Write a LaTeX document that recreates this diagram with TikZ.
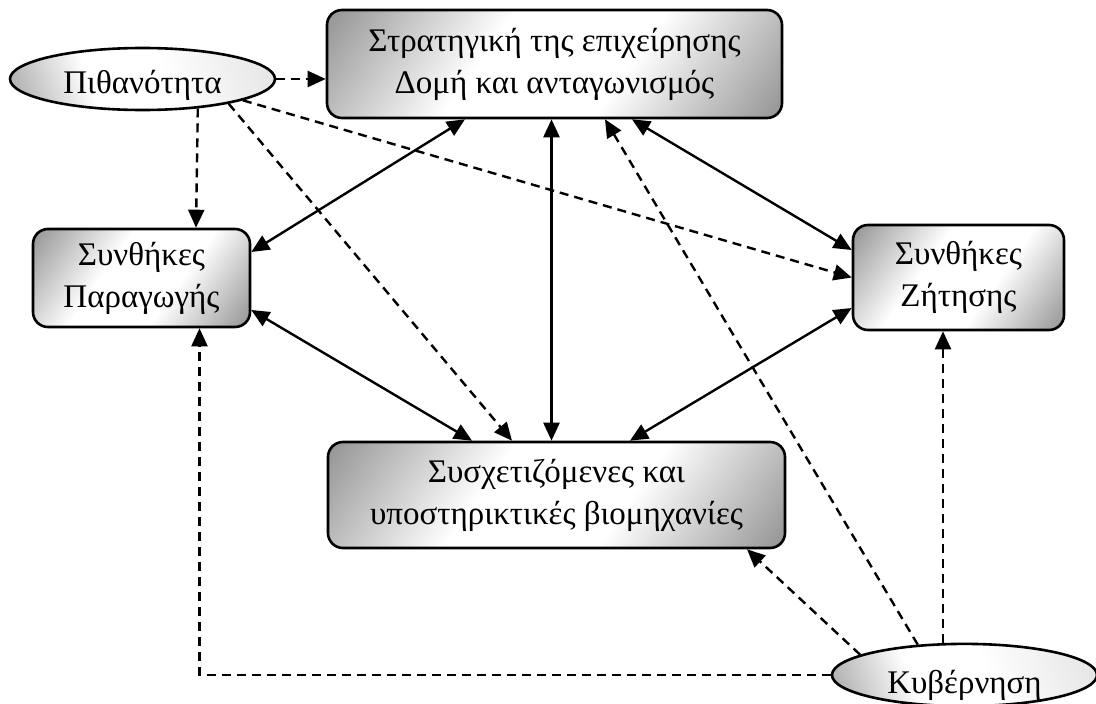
\documentclass[tikz,border=0pt]{standalone}
\usepackage{fontspec}
\setmainfont{Liberation Serif}
\usetikzlibrary{arrows.meta,calc,shapes.geometric}
\pgfdeclareverticalshading{boxshade}{100bp}{color(0bp)=(black!60); color(12bp)=(black!48); color(40bp)=(white); color(60bp)=(white); color(88bp)=(black!48); color(100bp)=(black!60)}
\pgfdeclareverticalshading{ovalshade}{100bp}{color(0bp)=(black!15); color(20bp)=(black!10); color(45bp)=(white); color(62bp)=(white); color(88bp)=(black!45); color(100bp)=(black!55)}
\begin{document}
\begin{tikzpicture}[x=1pt,y=-1pt,
  box/.style={draw,line width=2.6pt,rounded corners=15pt,align=center,
    font=\fontsize{33}{42}\selectfont,inner sep=0pt,
    shading=boxshade,shading angle=55},
  oval/.style={draw,line width=2.6pt,ellipse,align=center,inner sep=0pt,
    font=\fontsize{33}{42}\selectfont,
    shading=ovalshade,shading angle=110},
  conn/.style={line width=2.4pt,{Triangle[length=18pt,width=16pt]}-{Triangle[length=18pt,width=16pt]}},
  dconn/.style={line width=2.4pt,dash pattern=on 9pt off 6pt,-{Triangle[length=18pt,width=16pt]}}
]
\useasboundingbox (0,0) rectangle (1096,704);
\clip (0,0) rectangle (1096,704);
\node[box,minimum width=455pt,minimum height=108pt] (top) at (554.5,64) {Στρατηγική της επιχείρησης\\Δομή και ανταγωνισμός};
\node[box,minimum width=217pt,minimum height=98pt] (para) at (141.5,278) {Συνθήκες\\Παραγωγής};
\node[box,minimum width=211pt,minimum height=105pt] (zit) at (958.5,277.5) {Συνθήκες\\Ζήτησης};
\node[box,minimum width=457pt,minimum height=106pt] (bot) at (556.5,495) {Συσχετιζόμενες και\\υποστηρικτικές βιομηχανίες};
\node[oval,minimum width=265pt,minimum height=62pt,text height=32pt,text depth=4pt] (pith) at (142.5,79) {Πιθανότητα};
\node[oval,minimum width=265pt,minimum height=60pt,text height=40pt,text depth=4pt] (kyv) at (964.5,675) {Κυβέρνηση};
% dashed
\draw[dconn] (pith.east) -- (pith.east -| top.west);
\draw[dconn] (pith.-28) -- ([xshift=54.5pt]para.north);
\draw[dconn] (pith.-16) -- ([xshift=-44.5pt]bot.north);
\draw[dconn] (pith.-12) -- (zit.west);
\draw[dconn] (kyv.169) -- ([xshift=190.5pt]bot.south);
\draw[dconn] (kyv.147) -- ([xshift=50.5pt]top.south);
\draw[dconn] ([xshift=-15.5pt]zit.south |- kyv.north) -- ([xshift=-15.5pt]zit.south);
\draw[dconn] (kyv.west) -| ([xshift=58pt]para.south);
% solid
\draw[conn] ([xshift=-89.5pt]top.south) -- ([yshift=26pt]para.east);
\draw[conn] ([xshift=-3pt]top.south) -- ([xshift=-3pt]top.south |- bot.north);
\draw[conn] ([xshift=77.5pt]top.south) -- ([yshift=27.5pt]zit.west);
\draw[conn] ([yshift=-32pt]para.east) -- ([xshift=-84.5pt]bot.north);
\draw[conn] ([yshift=-30.5pt]zit.west) -- ([xshift=73.5pt]bot.north);
\end{tikzpicture}
\end{document}
